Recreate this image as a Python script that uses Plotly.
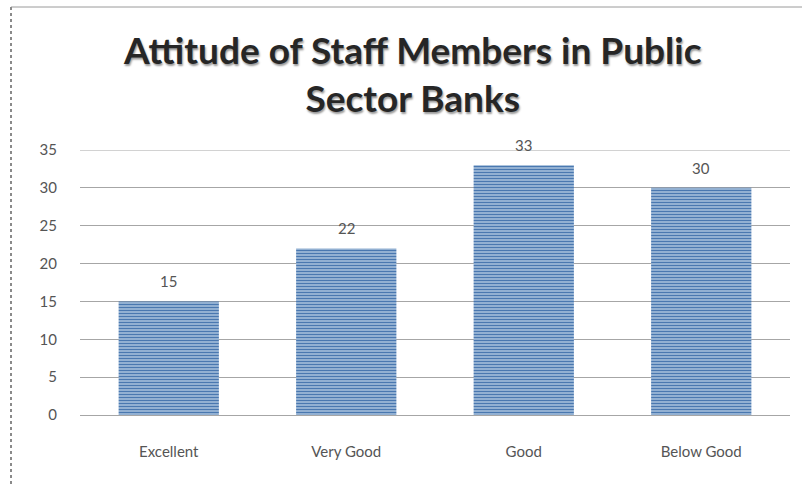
import plotly.graph_objects as go

categories = ["Excellent", "Very Good", "Good", "Below Good"]
values = [15, 22, 33, 30]
y_ticks = [0, 5, 10, 15, 20, 25, 30, 35]

TITLE = "Attitude of Staff Members in Public<br>Sector Banks"

fig = go.Figure()
fig.add_trace(go.Bar(
    x=categories,
    y=values,
    width=0.565,
    marker=dict(
        color="#a9c3df",
        line=dict(width=0),
        pattern=dict(shape="-", fgcolor="#4a78b0", bgcolor="#b4cbe3",
                     size=3, solidity=0.55, fillmode="replace"),
    ),
    hoverinfo="skip",
))

# value labels above each bar
for c, v in zip(categories, values):
    fig.add_annotation(x=c, y=v, text=str(v), showarrow=False,
                       yanchor="bottom", yshift=9,
                       font=dict(family="Lato", size=15, color="#555555"))

# pixel helpers for placing items relative to the plot area
L, R, T, B = 80, 12, 150, 70
W, H = 802, 485
pw, ph = W - L - R, H - T - B
def px(x):
    return (x - L) / pw
def py(y):
    return (H - B - y) / ph

# two-line chart title
fig.add_annotation(xref="paper", yref="paper", x=px(412), y=py(73),
                   xanchor="center", yanchor="middle", showarrow=False,
                   text=TITLE,
                   font=dict(family="Lato", size=37, color="#262626", weight="bold",
                             shadow="1px 2px 2px #9a9a9a"))

# top gridline at the upper end of the value axis
fig.add_shape(type="line", xref="paper", yref="y", x0=0, x1=1,
              y0=y_ticks[-1], y1=y_ticks[-1],
              line=dict(color="#a6a6a6", width=1), layer="below")

# chart frame: solid top edge, dotted left edge
fig.add_shape(type="line", xref="paper", yref="paper",
              x0=px(11), x1=px(802), y0=py(7), y1=py(7),
              line=dict(color="#9a9a9a", width=1))
fig.add_shape(type="line", xref="paper", yref="paper",
              x0=px(11), x1=px(11), y0=py(7), y1=py(485),
              line=dict(color="#8a8a8a", width=2, dash="dot"))

fig.update_layout(
    width=W, height=H,
    margin=dict(l=L, r=R, t=T, b=B),
    paper_bgcolor="white", plot_bgcolor="white",
    showlegend=False,
    xaxis=dict(showgrid=False, showline=False, ticks="",
               tickfont=dict(family="Lato", size=15, color="#555555"),
               ticklabelstandoff=26),
    yaxis=dict(range=[0, 35], tickvals=y_ticks, showgrid=True,
               gridcolor="#a6a6a6", gridwidth=1, zeroline=True,
               zerolinecolor="#a6a6a6", zerolinewidth=1, ticks="",
               tickfont=dict(family="Lato", size=15, color="#555555"),
               ticklabelstandoff=22),
)

fig.write_html("out.html")
